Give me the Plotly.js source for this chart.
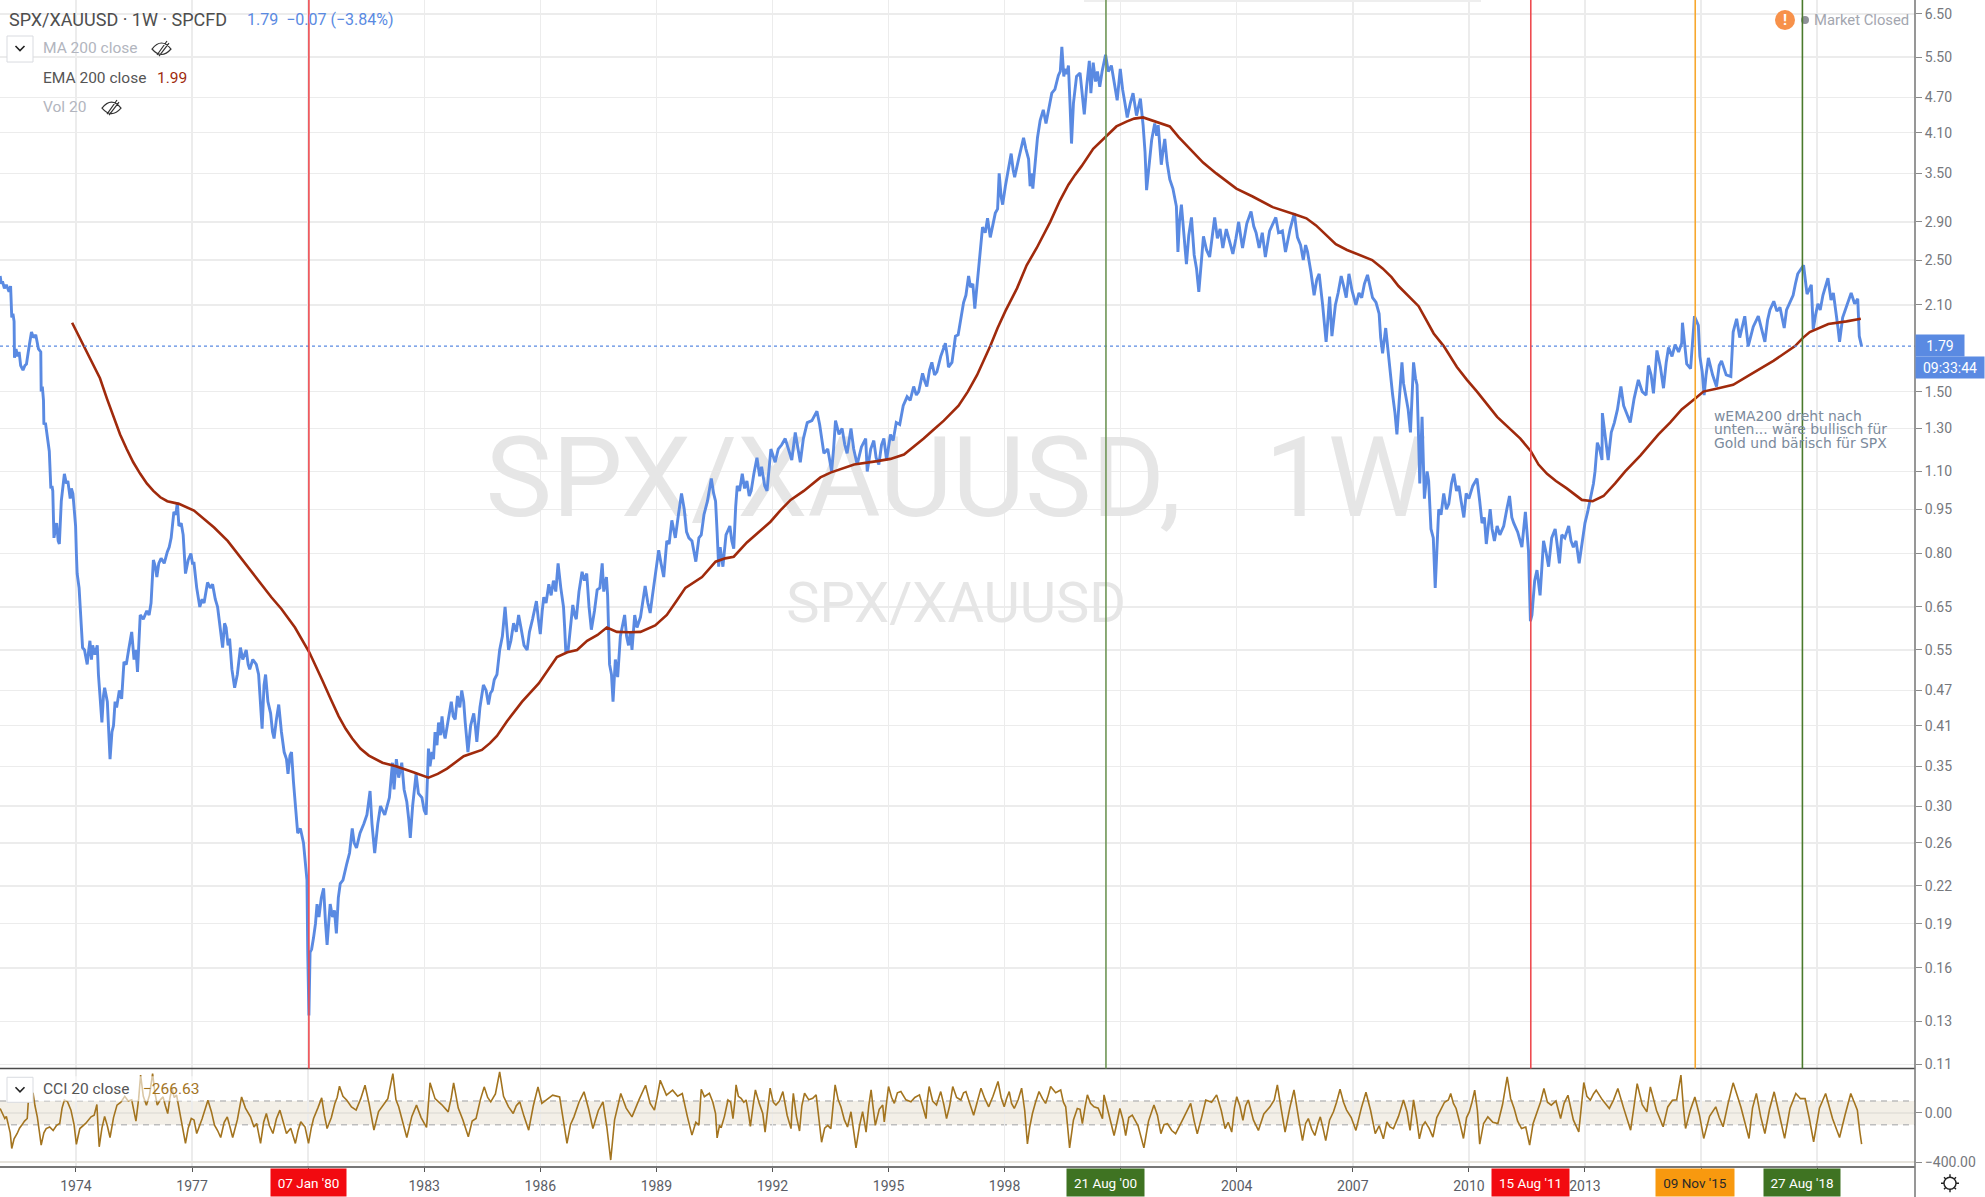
<!DOCTYPE html>
<html><head><meta charset="utf-8">
<script src="https://cdn.plot.ly/plotly-3.0.1.min.js"></script>
<style>html,body{margin:0;padding:0;background:#fff}#c{width:1985px;height:1197px}</style></head>
<body><div id="c"></div>
<script>
// SPX/XAUUSD weekly close, [decimal year, ratio]
const priceSeries = [[1972.04,2.35],[1972.07,2.28],[1972.1,2.3],[1972.15,2.24],[1972.2,2.27],[1972.27,2.21],[1972.31,2.26],[1972.34,2.0],[1972.37,2.03],[1972.4,1.97],[1972.41,1.71],[1972.45,1.77],[1972.49,1.72],[1972.53,1.75],[1972.57,1.66],[1972.63,1.63],[1972.68,1.66],[1972.72,1.67],[1972.79,1.79],[1972.85,1.89],[1972.9,1.85],[1972.96,1.87],[1973.03,1.77],[1973.09,1.75],[1973.1,1.5],[1973.13,1.53],[1973.16,1.45],[1973.17,1.32],[1973.21,1.33],[1973.24,1.28],[1973.28,1.23],[1973.31,1.19],[1973.35,1.03],[1973.38,1.04],[1973.4,1.02],[1973.43,0.85],[1973.47,0.88],[1973.5,0.9],[1973.54,0.84],[1973.57,0.83],[1973.62,0.98],[1973.66,1.03],[1973.7,1.09],[1973.75,1.05],[1973.79,1.06],[1973.85,0.99],[1973.88,1.03],[1973.92,1.01],[1973.99,0.89],[1974.01,0.8],[1974.03,0.74],[1974.08,0.7],[1974.12,0.63],[1974.17,0.555],[1974.22,0.55],[1974.26,0.53],[1974.29,0.52],[1974.33,0.55],[1974.36,0.57],[1974.4,0.53],[1974.43,0.56],[1974.49,0.54],[1974.55,0.56],[1974.58,0.5],[1974.62,0.46],[1974.67,0.415],[1974.71,0.46],[1974.74,0.475],[1974.81,0.45],[1974.85,0.39],[1974.88,0.36],[1974.93,0.4],[1974.97,0.41],[1975.01,0.45],[1975.05,0.44],[1975.12,0.47],[1975.18,0.455],[1975.24,0.525],[1975.3,0.52],[1975.36,0.55],[1975.4,0.57],[1975.44,0.59],[1975.5,0.53],[1975.55,0.55],[1975.59,0.505],[1975.63,0.58],[1975.66,0.63],[1975.74,0.62],[1975.83,0.64],[1975.89,0.63],[1975.94,0.66],[1976.0,0.78],[1976.05,0.76],[1976.09,0.73],[1976.14,0.77],[1976.2,0.785],[1976.28,0.77],[1976.36,0.805],[1976.41,0.82],[1976.46,0.85],[1976.53,0.94],[1976.58,0.93],[1976.62,0.975],[1976.66,0.89],[1976.72,0.9],[1976.77,0.86],[1976.83,0.74],[1976.9,0.78],[1976.97,0.8],[1977.01,0.77],[1977.05,0.77],[1977.12,0.7],[1977.2,0.65],[1977.26,0.67],[1977.31,0.66],[1977.4,0.715],[1977.47,0.7],[1977.53,0.71],[1977.6,0.67],[1977.66,0.65],[1977.72,0.6],[1977.79,0.555],[1977.84,0.61],[1977.88,0.6],[1977.93,0.56],[1977.97,0.575],[1978.03,0.51],[1978.1,0.475],[1978.17,0.5],[1978.25,0.555],[1978.31,0.53],[1978.4,0.55],[1978.45,0.52],[1978.49,0.51],[1978.57,0.53],[1978.66,0.52],[1978.72,0.5],[1978.77,0.45],[1978.81,0.405],[1978.86,0.48],[1978.9,0.5],[1978.96,0.45],[1979.03,0.43],[1979.08,0.4],[1979.12,0.39],[1979.18,0.42],[1979.24,0.445],[1979.31,0.4],[1979.38,0.37],[1979.44,0.36],[1979.48,0.34],[1979.53,0.365],[1979.57,0.37],[1979.62,0.33],[1979.66,0.31],[1979.73,0.27],[1979.8,0.275],[1979.88,0.26],[1979.93,0.24],[1979.97,0.225],[1979.99,0.17],[1980.02,0.133],[1980.05,0.17],[1980.09,0.172],[1980.14,0.18],[1980.19,0.19],[1980.23,0.205],[1980.28,0.195],[1980.34,0.21],[1980.4,0.218],[1980.45,0.19],[1980.49,0.175],[1980.53,0.19],[1980.57,0.205],[1980.63,0.195],[1980.68,0.2],[1980.73,0.183],[1980.78,0.21],[1980.83,0.222],[1980.9,0.225],[1981.0,0.24],[1981.07,0.25],[1981.14,0.275],[1981.19,0.26],[1981.25,0.255],[1981.34,0.27],[1981.44,0.28],[1981.52,0.29],[1981.6,0.318],[1981.65,0.28],[1981.72,0.25],[1981.8,0.28],[1981.87,0.3],[1981.98,0.29],[1982.1,0.31],[1982.18,0.355],[1982.22,0.32],[1982.28,0.36],[1982.34,0.335],[1982.42,0.355],[1982.48,0.32],[1982.55,0.305],[1982.6,0.285],[1982.64,0.265],[1982.7,0.3],[1982.79,0.34],[1982.85,0.315],[1982.94,0.31],[1983.0,0.295],[1983.05,0.29],[1983.11,0.375],[1983.15,0.35],[1983.2,0.37],[1983.24,0.36],[1983.28,0.4],[1983.33,0.38],[1983.37,0.415],[1983.42,0.395],[1983.46,0.425],[1983.5,0.4],[1983.54,0.39],[1983.62,0.42],[1983.7,0.45],[1983.75,0.425],[1983.8,0.42],[1983.86,0.46],[1983.92,0.44],[1983.97,0.47],[1984.02,0.45],[1984.06,0.415],[1984.13,0.37],[1984.2,0.41],[1984.28,0.43],[1984.32,0.41],[1984.36,0.385],[1984.44,0.44],[1984.53,0.48],[1984.6,0.47],[1984.66,0.445],[1984.71,0.465],[1984.76,0.47],[1984.81,0.49],[1984.88,0.5],[1984.95,0.55],[1985.02,0.58],[1985.09,0.65],[1985.13,0.6],[1985.18,0.55],[1985.24,0.57],[1985.31,0.61],[1985.38,0.59],[1985.44,0.63],[1985.5,0.6],[1985.58,0.56],[1985.66,0.55],[1985.72,0.59],[1985.8,0.62],[1985.9,0.665],[1985.95,0.62],[1986.0,0.585],[1986.05,0.64],[1986.09,0.675],[1986.15,0.66],[1986.22,0.71],[1986.28,0.68],[1986.34,0.72],[1986.4,0.69],[1986.46,0.77],[1986.53,0.7],[1986.6,0.65],[1986.63,0.6],[1986.66,0.545],[1986.72,0.55],[1986.78,0.61],[1986.84,0.655],[1986.89,0.63],[1986.93,0.62],[1987.0,0.69],[1987.08,0.745],[1987.14,0.72],[1987.2,0.74],[1987.26,0.65],[1987.32,0.595],[1987.4,0.64],[1987.47,0.695],[1987.54,0.7],[1987.6,0.77],[1987.64,0.69],[1987.71,0.73],[1987.74,0.68],[1987.77,0.595],[1987.79,0.52],[1987.84,0.5],[1987.88,0.45],[1987.94,0.53],[1988.0,0.495],[1988.07,0.58],[1988.12,0.6],[1988.18,0.63],[1988.23,0.58],[1988.28,0.56],[1988.33,0.59],[1988.37,0.55],[1988.44,0.63],[1988.5,0.6],[1988.59,0.625],[1988.65,0.66],[1988.71,0.705],[1988.78,0.66],[1988.84,0.635],[1988.9,0.68],[1988.97,0.73],[1989.06,0.81],[1989.12,0.77],[1989.19,0.73],[1989.27,0.84],[1989.33,0.83],[1989.4,0.91],[1989.49,0.85],[1989.57,0.93],[1989.65,1.01],[1989.72,0.95],[1989.78,0.87],[1989.84,0.85],[1989.92,0.84],[1990.02,0.775],[1990.1,0.85],[1990.16,0.86],[1990.23,0.93],[1990.32,0.98],[1990.42,1.07],[1990.48,1.01],[1990.53,0.98],[1990.57,0.87],[1990.61,0.76],[1990.65,0.82],[1990.72,0.76],[1990.8,0.86],[1990.9,0.89],[1990.95,0.84],[1991.0,0.815],[1991.05,0.96],[1991.09,1.04],[1991.15,1.02],[1991.22,1.09],[1991.28,1.03],[1991.34,1.06],[1991.4,1.0],[1991.45,1.02],[1991.52,1.09],[1991.6,1.16],[1991.67,1.08],[1991.72,1.12],[1991.8,1.04],[1991.86,1.02],[1991.96,1.2],[1992.02,1.16],[1992.07,1.14],[1992.15,1.2],[1992.24,1.22],[1992.33,1.25],[1992.42,1.2],[1992.5,1.15],[1992.59,1.28],[1992.66,1.2],[1992.72,1.14],[1992.8,1.25],[1992.9,1.33],[1993.02,1.34],[1993.15,1.39],[1993.22,1.32],[1993.33,1.18],[1993.43,1.2],[1993.53,1.1],[1993.58,1.2],[1993.63,1.34],[1993.72,1.27],[1993.8,1.3],[1993.87,1.22],[1993.93,1.18],[1994.03,1.3],[1994.1,1.2],[1994.19,1.13],[1994.3,1.21],[1994.41,1.25],[1994.45,1.1],[1994.54,1.2],[1994.62,1.24],[1994.68,1.16],[1994.75,1.13],[1994.82,1.22],[1994.88,1.25],[1994.95,1.15],[1995.05,1.27],[1995.12,1.24],[1995.2,1.33],[1995.29,1.32],[1995.38,1.42],[1995.48,1.47],[1995.56,1.45],[1995.65,1.53],[1995.72,1.48],[1995.78,1.5],[1995.88,1.61],[1995.94,1.56],[1995.99,1.53],[1996.06,1.63],[1996.12,1.68],[1996.19,1.6],[1996.25,1.62],[1996.35,1.72],[1996.47,1.81],[1996.52,1.72],[1996.55,1.65],[1996.64,1.68],[1996.73,1.86],[1996.8,1.87],[1996.86,1.98],[1996.94,2.12],[1997.0,2.18],[1997.07,2.35],[1997.12,2.25],[1997.18,2.28],[1997.23,2.07],[1997.3,2.3],[1997.37,2.52],[1997.43,2.84],[1997.5,2.78],[1997.56,2.94],[1997.63,2.73],[1997.7,2.86],[1997.76,3.0],[1997.82,3.05],[1997.86,3.5],[1997.91,3.2],[1997.95,3.1],[1998.02,3.33],[1998.1,3.55],[1998.17,3.78],[1998.22,3.55],[1998.26,3.45],[1998.37,3.72],[1998.49,4.02],[1998.55,3.85],[1998.62,3.7],[1998.66,3.33],[1998.7,3.5],[1998.73,3.3],[1998.8,3.75],[1998.85,4.02],[1998.92,4.3],[1999.0,4.48],[1999.07,4.25],[1999.15,4.55],[1999.22,4.78],[1999.3,4.85],[1999.39,5.12],[1999.44,5.2],[1999.48,5.72],[1999.53,5.1],[1999.56,5.25],[1999.61,5.15],[1999.65,5.32],[1999.69,4.6],[1999.73,3.93],[1999.78,4.6],[1999.86,5.1],[1999.95,5.17],[2000.0,4.8],[2000.06,4.4],[2000.12,4.9],[2000.19,5.42],[2000.23,4.78],[2000.29,5.38],[2000.35,5.0],[2000.4,5.2],[2000.46,4.9],[2000.52,5.2],[2000.61,5.55],[2000.68,5.2],[2000.76,5.32],[2000.84,4.9],[2000.91,4.65],[2000.99,5.25],[2001.05,4.85],[2001.11,4.6],[2001.17,4.35],[2001.25,4.6],[2001.32,4.78],[2001.41,4.38],[2001.46,4.55],[2001.51,4.68],[2001.58,4.22],[2001.63,3.8],[2001.67,3.28],[2001.74,3.7],[2001.8,3.98],[2001.88,4.25],[2001.93,4.05],[2001.97,4.22],[2002.05,3.62],[2002.09,3.8],[2002.14,4.0],[2002.2,3.65],[2002.27,3.42],[2002.35,3.3],[2002.44,3.08],[2002.48,2.58],[2002.52,2.9],[2002.57,3.1],[2002.63,2.78],[2002.7,2.46],[2002.76,2.75],[2002.83,2.95],[2002.9,2.55],[2002.96,2.42],[2003.02,2.21],[2003.08,2.45],[2003.14,2.74],[2003.22,2.6],[2003.3,2.53],[2003.37,2.75],[2003.43,2.95],[2003.5,2.72],[2003.57,2.82],[2003.64,2.62],[2003.73,2.82],[2003.82,2.68],[2003.9,2.56],[2003.98,2.72],[2004.05,2.9],[2004.1,2.75],[2004.15,2.62],[2004.26,2.88],[2004.37,3.02],[2004.44,2.85],[2004.5,2.78],[2004.58,2.62],[2004.66,2.78],[2004.74,2.53],[2004.85,2.8],[2005.01,2.95],[2005.08,2.78],[2005.18,2.8],[2005.26,2.58],[2005.38,2.82],[2005.49,3.0],[2005.53,2.85],[2005.57,2.73],[2005.65,2.65],[2005.72,2.5],[2005.78,2.65],[2005.83,2.58],[2005.92,2.38],[2006.0,2.18],[2006.07,2.32],[2006.13,2.37],[2006.22,2.1],[2006.31,1.82],[2006.36,2.0],[2006.4,2.17],[2006.46,1.86],[2006.55,2.1],[2006.62,2.2],[2006.7,2.35],[2006.77,2.25],[2006.83,2.16],[2006.9,2.37],[2006.98,2.22],[2007.08,2.1],[2007.16,2.2],[2007.23,2.16],[2007.3,2.28],[2007.38,2.36],[2007.44,2.26],[2007.51,2.16],[2007.6,2.12],[2007.68,2.03],[2007.72,1.85],[2007.77,1.74],[2007.85,1.92],[2007.9,1.78],[2007.94,1.65],[2008.03,1.48],[2008.09,1.38],[2008.14,1.27],[2008.2,1.45],[2008.27,1.68],[2008.31,1.55],[2008.36,1.48],[2008.43,1.4],[2008.49,1.28],[2008.53,1.5],[2008.57,1.68],[2008.62,1.58],[2008.66,1.54],[2008.7,1.25],[2008.73,1.05],[2008.79,1.36],[2008.82,1.15],[2008.85,0.99],[2008.92,1.1],[2008.96,1.06],[2009.02,0.88],[2009.08,0.85],[2009.13,0.7],[2009.18,0.86],[2009.22,0.95],[2009.28,0.93],[2009.35,1.01],[2009.42,0.95],[2009.48,0.97],[2009.55,1.05],[2009.61,1.09],[2009.68,1.02],[2009.74,1.04],[2009.8,0.98],[2009.87,0.92],[2009.93,1.01],[2010.0,0.99],[2010.1,1.04],[2010.21,1.07],[2010.28,0.98],[2010.34,0.9],[2010.4,0.92],[2010.45,0.83],[2010.55,0.95],[2010.6,0.88],[2010.66,0.84],[2010.73,0.89],[2010.8,0.86],[2010.9,0.89],[2010.98,0.95],[2011.05,1.0],[2011.11,0.92],[2011.16,0.9],[2011.26,0.87],[2011.37,0.82],[2011.46,0.94],[2011.54,0.81],[2011.59,0.615],[2011.63,0.63],[2011.7,0.72],[2011.76,0.75],[2011.84,0.68],[2011.89,0.78],[2011.93,0.84],[2012.0,0.8],[2012.06,0.76],[2012.14,0.85],[2012.23,0.88],[2012.28,0.83],[2012.34,0.77],[2012.4,0.86],[2012.48,0.85],[2012.58,0.89],[2012.64,0.84],[2012.7,0.82],[2012.77,0.84],[2012.85,0.77],[2012.92,0.83],[2013.0,0.9],[2013.07,0.94],[2013.13,0.98],[2013.22,1.05],[2013.26,1.1],[2013.32,1.23],[2013.38,1.2],[2013.44,1.15],[2013.45,1.38],[2013.52,1.27],[2013.6,1.15],[2013.68,1.28],[2013.76,1.33],[2013.84,1.4],[2013.93,1.53],[2014.0,1.42],[2014.07,1.38],[2014.17,1.33],[2014.27,1.46],[2014.38,1.57],[2014.48,1.5],[2014.58,1.48],[2014.64,1.66],[2014.71,1.6],[2014.77,1.49],[2014.86,1.76],[2014.95,1.65],[2015.03,1.52],[2015.1,1.68],[2015.16,1.78],[2015.25,1.72],[2015.33,1.8],[2015.42,1.75],[2015.5,1.81],[2015.52,1.96],[2015.57,1.84],[2015.63,1.67],[2015.73,1.64],[2015.78,1.8],[2015.83,2.01],[2015.93,1.94],[2015.97,1.72],[2016.03,1.62],[2016.08,1.48],[2016.13,1.6],[2016.19,1.71],[2016.3,1.6],[2016.4,1.53],[2016.47,1.66],[2016.53,1.69],[2016.65,1.6],[2016.77,1.59],[2016.83,1.89],[2016.92,1.99],[2017.0,1.85],[2017.07,1.94],[2017.13,2.01],[2017.22,1.79],[2017.35,1.93],[2017.48,2.01],[2017.56,1.92],[2017.65,1.82],[2017.72,1.98],[2017.78,2.06],[2017.88,2.13],[2017.96,2.05],[2018.04,2.08],[2018.1,1.98],[2018.15,1.92],[2018.21,2.06],[2018.3,2.12],[2018.38,2.18],[2018.44,2.28],[2018.5,2.37],[2018.65,2.45],[2018.7,2.3],[2018.74,2.19],[2018.85,2.27],[2018.9,1.91],[2018.96,2.02],[2019.02,2.11],[2019.08,2.06],[2019.15,2.18],[2019.28,2.33],[2019.36,2.14],[2019.42,2.2],[2019.49,2.05],[2019.54,1.92],[2019.58,1.82],[2019.66,2.0],[2019.75,2.08],[2019.88,2.2],[2019.97,2.11],[2020.05,2.15],[2020.09,1.86],[2020.15,1.79]];
// EMA 200 close
const emaSeries = [[1973.9,1.96],[1974.08,1.86],[1974.27,1.76],[1974.45,1.67],[1974.62,1.58],[1974.8,1.46],[1974.97,1.36],[1975.14,1.27],[1975.31,1.2],[1975.48,1.14],[1975.66,1.09],[1975.83,1.05],[1976.0,1.02],[1976.18,0.995],[1976.36,0.98],[1976.66,0.97],[1977.05,0.945],[1977.31,0.915],[1977.57,0.885],[1977.92,0.84],[1978.27,0.785],[1978.53,0.75],[1978.79,0.71],[1979.05,0.675],[1979.31,0.645],[1979.66,0.6],[1980.03,0.545],[1980.2,0.517],[1980.36,0.49],[1980.58,0.455],[1980.79,0.425],[1980.97,0.405],[1981.14,0.39],[1981.35,0.375],[1981.57,0.365],[1981.92,0.355],[1982.27,0.35],[1982.72,0.342],[1983.11,0.335],[1983.35,0.34],[1983.59,0.347],[1984.02,0.364],[1984.49,0.373],[1984.7,0.383],[1984.88,0.394],[1985.14,0.417],[1985.53,0.45],[1985.96,0.483],[1986.2,0.508],[1986.43,0.535],[1986.7,0.545],[1986.95,0.55],[1987.21,0.57],[1987.48,0.583],[1987.72,0.6],[1987.98,0.59],[1988.3,0.589],[1988.59,0.59],[1988.97,0.605],[1989.27,0.63],[1989.52,0.665],[1989.75,0.7],[1990.18,0.73],[1990.53,0.775],[1990.78,0.785],[1991.0,0.79],[1991.34,0.835],[1991.65,0.87],[1991.95,0.905],[1992.2,0.945],[1992.47,0.985],[1992.81,1.02],[1993.24,1.075],[1993.5,1.095],[1993.76,1.11],[1994.11,1.13],[1994.71,1.145],[1995.05,1.155],[1995.4,1.175],[1995.65,1.21],[1995.91,1.25],[1996.17,1.295],[1996.43,1.34],[1996.81,1.42],[1997.05,1.5],[1997.29,1.6],[1997.46,1.69],[1997.63,1.79],[1997.82,1.92],[1998.02,2.05],[1998.32,2.24],[1998.57,2.45],[1998.83,2.62],[1999.0,2.75],[1999.18,2.9],[1999.43,3.15],[1999.65,3.35],[1999.82,3.48],[1999.99,3.6],[2000.29,3.85],[2000.61,4.03],[2000.89,4.2],[2001.15,4.28],[2001.35,4.33],[2001.58,4.35],[2001.92,4.28],[2002.27,4.2],[2002.5,4.03],[2002.7,3.9],[2003.13,3.65],[2003.47,3.5],[2003.99,3.3],[2004.41,3.2],[2004.93,3.07],[2005.53,2.98],[2005.8,2.94],[2006.05,2.86],[2006.3,2.76],[2006.56,2.66],[2006.85,2.6],[2007.17,2.55],[2007.5,2.5],[2007.77,2.42],[2008.0,2.34],[2008.18,2.26],[2008.45,2.17],[2008.7,2.09],[2008.9,1.98],[2009.09,1.88],[2009.35,1.79],[2009.69,1.65],[2009.95,1.57],[2010.21,1.5],[2010.73,1.36],[2011.05,1.3],[2011.33,1.25],[2011.6,1.19],[2011.8,1.13],[2012.02,1.09],[2012.25,1.06],[2012.53,1.03],[2012.92,0.985],[2013.2,0.98],[2013.48,1.0],[2013.78,1.05],[2014.04,1.1],[2014.43,1.17],[2014.9,1.27],[2015.2,1.33],[2015.5,1.4],[2015.85,1.46],[2016.06,1.5],[2016.45,1.52],[2016.83,1.54],[2017.26,1.6],[2017.87,1.69],[2018.43,1.79],[2018.64,1.85],[2018.81,1.89],[2019.29,1.95],[2019.76,1.97],[2020.13,1.99]];
// CCI 20 close
const cciSeries = [[1972.04,37],[1972.1,-10],[1972.16,-48],[1972.2,-30],[1972.25,-104],[1972.3,-170],[1972.34,-302],[1972.4,-220],[1972.48,-175],[1972.54,-130],[1972.6,-104],[1972.67,-70],[1972.74,-48],[1972.77,107],[1972.83,120],[1972.89,170],[1972.94,60],[1973.0,-34],[1973.05,-150],[1973.1,-274],[1973.17,-170],[1973.23,-133],[1973.32,-120],[1973.41,-150],[1973.5,-105],[1973.58,-90],[1973.64,40],[1973.7,107],[1973.78,95],[1973.87,23],[1973.95,-100],[1974.01,-268],[1974.06,-190],[1974.1,-133],[1974.25,-90],[1974.39,-34],[1974.47,-20],[1974.54,70],[1974.57,-120],[1974.6,-288],[1974.67,-130],[1974.74,-30],[1974.81,-110],[1974.88,-209],[1974.97,-40],[1975.06,65],[1975.16,90],[1975.26,140],[1975.35,100],[1975.44,110],[1975.5,10],[1975.55,-70],[1975.62,120],[1975.67,319],[1975.74,140],[1975.82,65],[1975.9,150],[1975.98,333],[1976.04,170],[1976.1,65],[1976.18,110],[1976.25,135],[1976.31,60],[1976.37,-6],[1976.43,130],[1976.48,206],[1976.54,130],[1976.6,150],[1976.65,60],[1976.69,-6],[1976.76,-120],[1976.83,-259],[1976.9,-130],[1976.98,-48],[1977.05,-60],[1977.12,-175],[1977.26,-50],[1977.41,107],[1977.5,10],[1977.58,-104],[1977.66,-150],[1977.74,-209],[1977.83,-80],[1977.91,-34],[1977.98,-120],[1978.05,-209],[1978.17,-60],[1978.28,135],[1978.38,40],[1978.51,-34],[1978.6,-120],[1978.67,-90],[1978.77,-259],[1978.85,-80],[1978.92,-6],[1979.0,-110],[1979.09,-175],[1979.18,-50],[1979.27,23],[1979.36,-90],[1979.44,-175],[1979.55,-130],[1979.67,-259],[1979.74,-150],[1979.81,-76],[1979.92,-120],[1980.01,-259],[1980.08,-130],[1980.14,-48],[1980.25,40],[1980.35,127],[1980.42,-20],[1980.49,-133],[1980.6,-40],[1980.69,79],[1980.75,130],[1980.81,226],[1980.9,140],[1981.0,107],[1981.12,50],[1981.24,23],[1981.36,120],[1981.47,234],[1981.58,70],[1981.7,-147],[1981.82,10],[1981.94,65],[1982.06,120],[1982.19,333],[1982.27,110],[1982.34,51],[1982.45,-80],[1982.55,-209],[1982.68,-30],[1982.8,65],[1982.92,-40],[1983.06,-124],[1983.15,254],[1983.28,120],[1983.45,70],[1983.62,8],[1983.7,130],[1983.76,254],[1983.88,40],[1984.0,-60],[1984.14,-203],[1984.24,-70],[1984.34,-48],[1984.45,110],[1984.55,220],[1984.64,130],[1984.72,93],[1984.84,160],[1984.95,347],[1985.05,140],[1985.18,50],[1985.3,-6],[1985.38,60],[1985.47,93],[1985.58,-30],[1985.7,-147],[1985.82,60],[1985.94,220],[1986.04,80],[1986.14,107],[1986.32,150],[1986.5,135],[1986.6,-60],[1986.69,-259],[1986.78,-100],[1986.87,-34],[1987.0,90],[1987.13,178],[1987.25,30],[1987.36,-133],[1987.5,20],[1987.62,93],[1987.72,-120],[1987.82,-400],[1987.92,-60],[1988.08,164],[1988.22,40],[1988.37,-34],[1988.55,110],[1988.72,234],[1988.84,80],[1988.95,23],[1989.03,150],[1989.1,276],[1989.26,150],[1989.42,192],[1989.55,140],[1989.67,164],[1989.8,-30],[1989.92,-189],[1990.02,-80],[1990.1,-104],[1990.16,200],[1990.24,137],[1990.37,166],[1990.46,90],[1990.53,-6],[1990.57,-212],[1990.63,-110],[1990.68,-120],[1990.76,-30],[1990.85,109],[1990.92,90],[1990.98,-49],[1991.03,100],[1991.06,237],[1991.12,140],[1991.19,123],[1991.26,90],[1991.32,109],[1991.38,0],[1991.43,-114],[1991.5,60],[1991.56,194],[1991.66,80],[1991.75,-6],[1991.81,-163],[1991.88,50],[1991.94,209],[1992.02,90],[1992.09,66],[1992.18,100],[1992.27,180],[1992.38,-20],[1992.48,-134],[1992.51,40],[1992.54,166],[1992.62,-30],[1992.7,-154],[1992.76,60],[1992.83,166],[1992.94,110],[1993.04,123],[1993.13,152],[1993.2,-60],[1993.27,-249],[1993.35,-130],[1993.43,-106],[1993.51,-134],[1993.57,90],[1993.62,237],[1993.7,110],[1993.77,51],[1993.86,-60],[1993.94,-120],[1994.03,9],[1994.09,-120],[1994.16,-297],[1994.25,-110],[1994.33,9],[1994.38,-80],[1994.42,-163],[1994.49,60],[1994.55,194],[1994.6,50],[1994.66,-106],[1994.76,30],[1994.85,66],[1994.89,-77],[1994.95,90],[1995.0,223],[1995.08,130],[1995.15,80],[1995.23,170],[1995.32,180],[1995.45,110],[1995.58,94],[1995.68,130],[1995.8,152],[1995.88,60],[1995.97,-49],[1996.0,100],[1996.05,223],[1996.14,100],[1996.24,66],[1996.3,130],[1996.35,180],[1996.43,70],[1996.5,-49],[1996.58,60],[1996.66,223],[1996.76,130],[1996.87,109],[1996.94,170],[1997.0,180],[1997.1,80],[1997.2,-20],[1997.3,100],[1997.39,209],[1997.49,120],[1997.59,51],[1997.7,140],[1997.83,266],[1997.91,130],[1997.99,51],[1998.05,120],[1998.12,180],[1998.18,80],[1998.25,37],[1998.35,110],[1998.44,209],[1998.52,20],[1998.59,-263],[1998.65,-120],[1998.72,-6],[1998.8,90],[1998.89,180],[1998.98,120],[1999.06,80],[1999.13,150],[1999.19,223],[1999.32,170],[1999.45,194],[1999.52,90],[1999.58,51],[1999.63,-120],[1999.68,-297],[1999.78,-60],[1999.88,37],[1999.95,30],[2000.01,-92],[2000.08,50],[2000.14,152],[2000.22,80],[2000.31,51],[2000.42,40],[2000.53,-49],[2000.57,152],[2000.7,-30],[2000.83,-192],[2000.9,-90],[2000.98,37],[2001.06,-60],[2001.13,-192],[2001.21,-40],[2001.3,-20],[2001.45,-110],[2001.6,-297],[2001.72,-70],[2001.86,66],[2001.95,-20],[2002.04,-177],[2002.12,-100],[2002.21,-92],[2002.32,-150],[2002.42,-177],[2002.6,-60],[2002.81,80],[2002.9,-70],[2002.98,-177],[2003.1,-30],[2003.2,109],[2003.35,90],[2003.48,152],[2003.6,20],[2003.7,-134],[2003.78,-80],[2003.87,-163],[2003.94,40],[2004.0,137],[2004.08,60],[2004.16,-63],[2004.23,60],[2004.3,109],[2004.43,-60],[2004.56,-149],[2004.7,-10],[2004.86,51],[2004.97,110],[2005.05,237],[2005.15,30],[2005.25,-163],[2005.37,40],[2005.48,194],[2005.6,-50],[2005.7,-235],[2005.78,-90],[2005.85,-49],[2005.94,-140],[2006.02,-192],[2006.1,-90],[2006.16,-34],[2006.23,-130],[2006.3,-235],[2006.4,-60],[2006.5,9],[2006.58,90],[2006.67,200],[2006.76,90],[2006.84,23],[2006.96,-40],[2007.08,-149],[2007.22,40],[2007.34,174],[2007.46,20],[2007.58,-177],[2007.68,-110],[2007.79,-220],[2007.88,-77],[2007.96,-120],[2008.05,-134],[2008.18,-30],[2008.31,109],[2008.4,10],[2008.48,-149],[2008.53,-20],[2008.57,109],[2008.65,-50],[2008.72,-220],[2008.8,-110],[2008.87,-77],[2008.97,-130],[2009.07,-206],[2009.17,-40],[2009.26,23],[2009.37,90],[2009.47,109],[2009.53,164],[2009.6,80],[2009.67,37],[2009.77,-90],[2009.86,-217],[2009.94,-40],[2010.01,8],[2010.08,90],[2010.15,192],[2010.22,20],[2010.28,-265],[2010.38,-90],[2010.49,-34],[2010.62,-80],[2010.75,-90],[2010.87,70],[2010.99,305],[2011.08,120],[2011.17,37],[2011.26,-70],[2011.36,-133],[2011.47,-120],[2011.57,-274],[2011.66,-90],[2011.75,-6],[2011.85,90],[2011.94,206],[2012.03,90],[2012.13,65],[2012.25,100],[2012.37,-48],[2012.46,80],[2012.56,149],[2012.7,-60],[2012.84,-161],[2012.91,50],[2012.97,257],[2013.05,140],[2013.14,107],[2013.22,160],[2013.29,192],[2013.45,110],[2013.63,37],[2013.74,110],[2013.85,206],[2014.0,40],[2014.18,-147],[2014.27,60],[2014.35,248],[2014.48,70],[2014.6,8],[2014.65,130],[2014.69,220],[2014.85,20],[2015.02,-118],[2015.14,50],[2015.26,107],[2015.37,110],[2015.48,319],[2015.54,60],[2015.6,-133],[2015.72,20],[2015.84,135],[2015.96,-20],[2016.07,-217],[2016.22,-30],[2016.38,51],[2016.47,-40],[2016.57,-118],[2016.7,80],[2016.83,254],[2017.03,50],[2017.24,-217],[2017.33,40],[2017.43,164],[2017.54,-30],[2017.65,-175],[2017.77,30],[2017.89,178],[2018.02,-10],[2018.16,-217],[2018.3,40],[2018.45,164],[2018.57,120],[2018.69,121],[2018.8,-50],[2018.91,-245],[2019.06,40],[2019.22,164],[2019.4,-50],[2019.58,-209],[2019.72,-20],[2019.87,164],[2019.96,90],[2020.04,23],[2020.1,-150],[2020.15,-266]];

const xTickYears = [1974,1977,1980,1983,1986,1989,1992,1995,1998,2001,2004,2007,2010,2013,2016,2019];
// labels under the date flags are hidden, as in the reference
const xTickLabels = ['1974','1977','','1983','1986','1989','1992','1995','1998','','2004','2007','2010','2013','',''];
const yTickValues = [6.5,5.5,4.7,4.1,3.5,2.9,2.5,2.1,1.5,1.3,1.1,0.95,0.8,0.65,0.55,0.47,0.41,0.35,0.3,0.26,0.22,0.19,0.16,0.13,0.11];
const yTickLabels = ['6.50','5.50','4.70','4.10','3.50','2.90','2.50','2.10','1.50','1.30','1.10','0.95','0.80','0.65','0.55','0.47','0.41','0.35','0.30','0.26','0.22','0.19','0.16','0.13','0.11'];
const cciTickValues = [0,-417];
const cciTickLabels = ['0.00','\u2212400.00'];
const markerDates = [
 {year:1980.02,label:"07 Jan '80",line:'#ee4b50',box:'#f20a10',text:'#ffffff',w:75},
 {year:2000.62,label:"21 Aug '00",line:'#6f9656',box:'#3f7322',text:'#ffffff',w:77},
 {year:2011.6,label:"15 Aug '11",line:'#ee4b50',box:'#f20a10',text:'#ffffff',w:77},
 {year:2015.85,label:"09 Nov '15",line:'#f7a72e',box:'#f8990f',text:'#2a2a2a',w:78},
 {year:2018.62,label:"27 Aug '18",line:'#4a7a2c',box:'#3f7322',text:'#ffffff',w:76}
];
const lastPrice = 1.79;

const W=1985,H=1197,PW=1915,PH=1166.7,SPLIT=1068.3;
const px=x=>x/PW, py=y=>1-y/PH;
const FONT='Roboto, sans-serif';
const blue='#5a8ae2', brown='#a02a0c', ochre='#a3741f', grid='#ececec';

const traces=[
 {x:[1996.75],y:[1.03],mode:'text',text:['SPX/XAUUSD,\u00a0\u00a0 1W'],textfont:{family:FONT,size:112,color:'#e6e6e6'},textposition:'middle center',hoverinfo:'skip',showlegend:false,xaxis:'x',yaxis:'y'},
 {x:[1996.75],y:[0.648],mode:'text',text:['SPX/XAUUSD'],textfont:{family:FONT,size:56,color:'#e6e6e6'},textposition:'middle center',hoverinfo:'skip',showlegend:false,xaxis:'x',yaxis:'y'},
 {x:priceSeries.map(p=>p[0]),y:priceSeries.map(p=>p[1]),mode:'lines',line:{color:blue,width:2.9},name:'SPX/XAUUSD',showlegend:false,xaxis:'x',yaxis:'y'},
 {x:emaSeries.map(p=>p[0]),y:emaSeries.map(p=>p[1]),mode:'lines',line:{color:brown,width:2.6},name:'EMA 200',showlegend:false,xaxis:'x',yaxis:'y'},
 {x:cciSeries.map(p=>p[0]),y:cciSeries.map(p=>p[1]),mode:'lines',line:{color:ochre,width:1.6},name:'CCI 20',showlegend:false,xaxis:'x2',yaxis:'y2'}
];

const eyeOff=(x,y)=>{
 const X=v=>px(x+v),Y=v=>py(y+v);
 return `M${X(0)} ${Y(9)} Q${X(9.5)} ${Y(-3)} ${X(19)} ${Y(9)} Q${X(9.5)} ${Y(20)} ${X(0)} ${Y(9)} Z M${X(5)} ${Y(15)} L${X(15)} ${Y(1)} M${X(7)} ${Y(16)} L${X(17)} ${Y(3)}`;
};
const chevron=(cx,cy)=>`M${px(cx-4.5)} ${py(cy-2)} L${px(cx)} ${py(cy+2.5)} L${px(cx+4.5)} ${py(cy-2)}`;
const paperLine=(x0,y0,x1,y1,color,width,dash)=>({type:'line',xref:'paper',yref:'paper',x0:px(x0),x1:px(x1),y0:py(y0),y1:py(y1),line:{color,width,dash:dash||'solid'}});
const box=(x0,y0,x1,y1,fill,line,layer)=>({type:'rect',xref:'paper',yref:'paper',x0:px(x0),x1:px(x1),y0:py(y0),y1:py(y1),fillcolor:fill,line:{color:line||'rgba(0,0,0,0)',width:line?1:0},layer:layer||'above'});

const shapes=[
 {type:'rect',xref:'paper',yref:'y2',x0:0,x1:1,y0:-100,y1:100,fillcolor:'#f3efe7',line:{width:0},layer:'below'},
 {type:'line',xref:'paper',yref:'y2',x0:0,x1:1,y0:100,y1:100,line:{color:'#bdbdbd',width:1.5,dash:'6px,5px'},layer:'below'},
 {type:'line',xref:'paper',yref:'y2',x0:0,x1:1,y0:-100,y1:-100,line:{color:'#bdbdbd',width:1.5,dash:'6px,5px'},layer:'below'},
 {type:'line',xref:'paper',yref:'y',x0:0,x1:1,y0:lastPrice,y1:lastPrice,line:{color:blue,width:1.2,dash:'dot'}},
 paperLine(0,SPLIT,PW,SPLIT,'#4a4a4a',1.4),
 paperLine(0,PH,PW,PH,'#4a4a4a',1.4),
 paperLine(PW,0,PW,H,'#7d7d7d',1.6),
 box(1084,0,1481,2,'#eeeeee'),
 box(0,34,179,63,'rgba(255,255,255,0.65)',null,'below'),
 box(0,93,130,122,'rgba(255,255,255,0.65)',null,'below'),
 box(38,1076,200,1101,'rgba(255,255,255,0.6)'),
 box(7,36,33,62,'#ffffff','#d9dbe0'),
 {type:'path',xref:'paper',yref:'paper',path:chevron(20,48),line:{color:'#222',width:1.6}},
 box(7,1077,33,1102,'#ffffff','#d9dbe0'),
 {type:'path',xref:'paper',yref:'paper',path:chevron(20,1089),line:{color:'#222',width:1.6}},
 {type:'path',xref:'paper',yref:'paper',path:eyeOff(152,40),line:{color:'#333',width:1.2}},
 {type:'path',xref:'paper',yref:'paper',path:eyeOff(102,99),line:{color:'#333',width:1.2}},
 {type:'circle',xref:'paper',yref:'paper',x0:px(1775),x1:px(1795),y0:py(10),y1:py(30),fillcolor:'#f7914a',line:{width:0}},
 {type:'circle',xref:'paper',yref:'paper',x0:px(1801),x1:px(1809),y0:py(16),y1:py(24),fillcolor:'#8f9299',line:{width:0}},
 {type:'circle',xref:'paper',yref:'paper',x0:px(1944),x1:px(1956),y0:py(1177),y1:py(1189),line:{color:'#222',width:1.4}},
 {type:'path',xref:'paper',yref:'paper',path:`M${px(1950)} ${py(1174)} L${px(1950)} ${py(1177)} M${px(1950)} ${py(1189)} L${px(1950)} ${py(1192)} M${px(1941)} ${py(1183)} L${px(1944)} ${py(1183)} M${px(1956)} ${py(1183)} L${px(1959)} ${py(1183)} M${px(1944)} ${py(1177)} L${px(1946)} ${py(1179)} M${px(1954)} ${py(1187)} L${px(1956)} ${py(1189)} M${px(1956)} ${py(1177)} L${px(1954)} ${py(1179)} M${px(1944)} ${py(1189)} L${px(1946)} ${py(1187)}`,line:{color:'#222',width:1.4}},
];
markerDates.forEach(m=>shapes.push({type:'line',xref:'x',yref:'paper',x0:m.year,x1:m.year,y0:1-SPLIT/PH,y1:1,line:{color:m.line,width:1.6},layer:'above'}));

const note=(text,y)=>({xref:'paper',yref:'paper',x:px(1712),y:py(y),xanchor:'left',yanchor:'middle',text,showarrow:false,font:{family:'DejaVu Sans, sans-serif',size:13.9,color:'#7b8a9c'}});
const legendText=(text,x,y,color,size)=>({xref:'paper',yref:'paper',x:px(x),y:py(y),xanchor:'left',yanchor:'middle',text,showarrow:false,font:{family:FONT,size:size||15.5,color}});

const annotations=[
 legendText('SPX/XAUUSD \u00b7 1W \u00b7 SPCFD',7,19,'#4e4e4e',18),
 legendText('1.79  \u22120.07 (\u22123.84%)',245,19,blue,16),
 legendText('MA 200 close',41,48,'#b2b5be'),
 legendText('EMA 200 close',41,78,'#555555'),
 legendText('1.99',155,78,brown),
 legendText('Vol 20',41,107,'#b2b5be'),
 legendText('CCI 20 close',41,1089,'#555555'),
 legendText('\u2212266.63',141,1089,ochre),
 legendText('Market Closed',1812,20,'#a3a6af',14.8),
 {xref:'paper',yref:'paper',x:px(1785),y:py(20),xanchor:'center',yanchor:'middle',text:'<b>!</b>',showarrow:false,font:{family:FONT,size:15,color:'#ffffff'}},
 note('wEMA200 dreht nach',416),
 note('unten... w\u00e4re bullisch f\u00fcr',429),
 note('Gold und b\u00e4risch f\u00fcr SPX',443),
 {xref:'paper',yref:'y',x:px(1915),y:Math.log10(lastPrice),yshift:1,xanchor:'left',yanchor:'middle',text:'1.79',showarrow:false,width:48,height:21,bgcolor:blue,borderpad:0,font:{family:FONT,size:14,color:'#ffffff'}},
 {xref:'paper',yref:'paper',x:px(1915),y:py(367.5),xanchor:'left',yanchor:'middle',text:'09:33:44',showarrow:false,width:68,height:21,bgcolor:blue,borderpad:0,font:{family:FONT,size:14,color:'#ffffff'}}
];
markerDates.forEach(m=>annotations.push({xref:'x2',yref:'paper',x:m.year,y:0,yanchor:'top',yshift:-1,text:m.label,showarrow:false,width:m.w,height:27,bgcolor:m.box,borderpad:0,font:{family:FONT,size:13.5,color:m.text}}));

const xBase={range:[1972.036,2021.53],tickmode:'array',tickvals:xTickYears,ticktext:xTickLabels,showgrid:true,gridcolor:grid,gridwidth:1.4,zeroline:false,showline:false};
const layout={
 width:W,height:H,paper_bgcolor:'#ffffff',plot_bgcolor:'#ffffff',showlegend:false,hovermode:false,
 margin:{l:0,r:W-PW,t:0,b:H-PH,pad:0},
 xaxis:{...xBase,domain:[0,1],anchor:'y',showticklabels:false,ticks:''},
 xaxis2:{...xBase,domain:[0,1],anchor:'y2',ticks:'outside',ticklen:4,tickcolor:'#555',ticklabelstandoff:2,tickfont:{family:FONT,size:14,color:'#5a5d66'}},
 yaxis:{type:'log',side:'right',domain:[1-SPLIT/PH,1],anchor:'x',range:[-0.9656,0.8365],tickmode:'array',tickvals:yTickValues,ticktext:yTickLabels,ticks:'outside',ticklen:6,tickcolor:'#8a8a8a',tickfont:{family:FONT,size:14,color:'#76787d'},showgrid:true,gridcolor:grid,gridwidth:1.4,zeroline:false,showline:false},
 yaxis2:{side:'right',domain:[0,1-SPLIT/PH],anchor:'x2',range:[-459,375],tickmode:'array',tickvals:cciTickValues,ticktext:cciTickLabels,ticks:'outside',ticklen:6,tickcolor:'#8a8a8a',tickfont:{family:FONT,size:14,color:'#76787d'},showgrid:true,gridcolor:'#e6e3dc',gridwidth:1.4,zeroline:false,showline:false},
 shapes,annotations
};
Plotly.newPlot('c',traces,layout,{displayModeBar:false,staticPlot:true});
</script></body></html>
